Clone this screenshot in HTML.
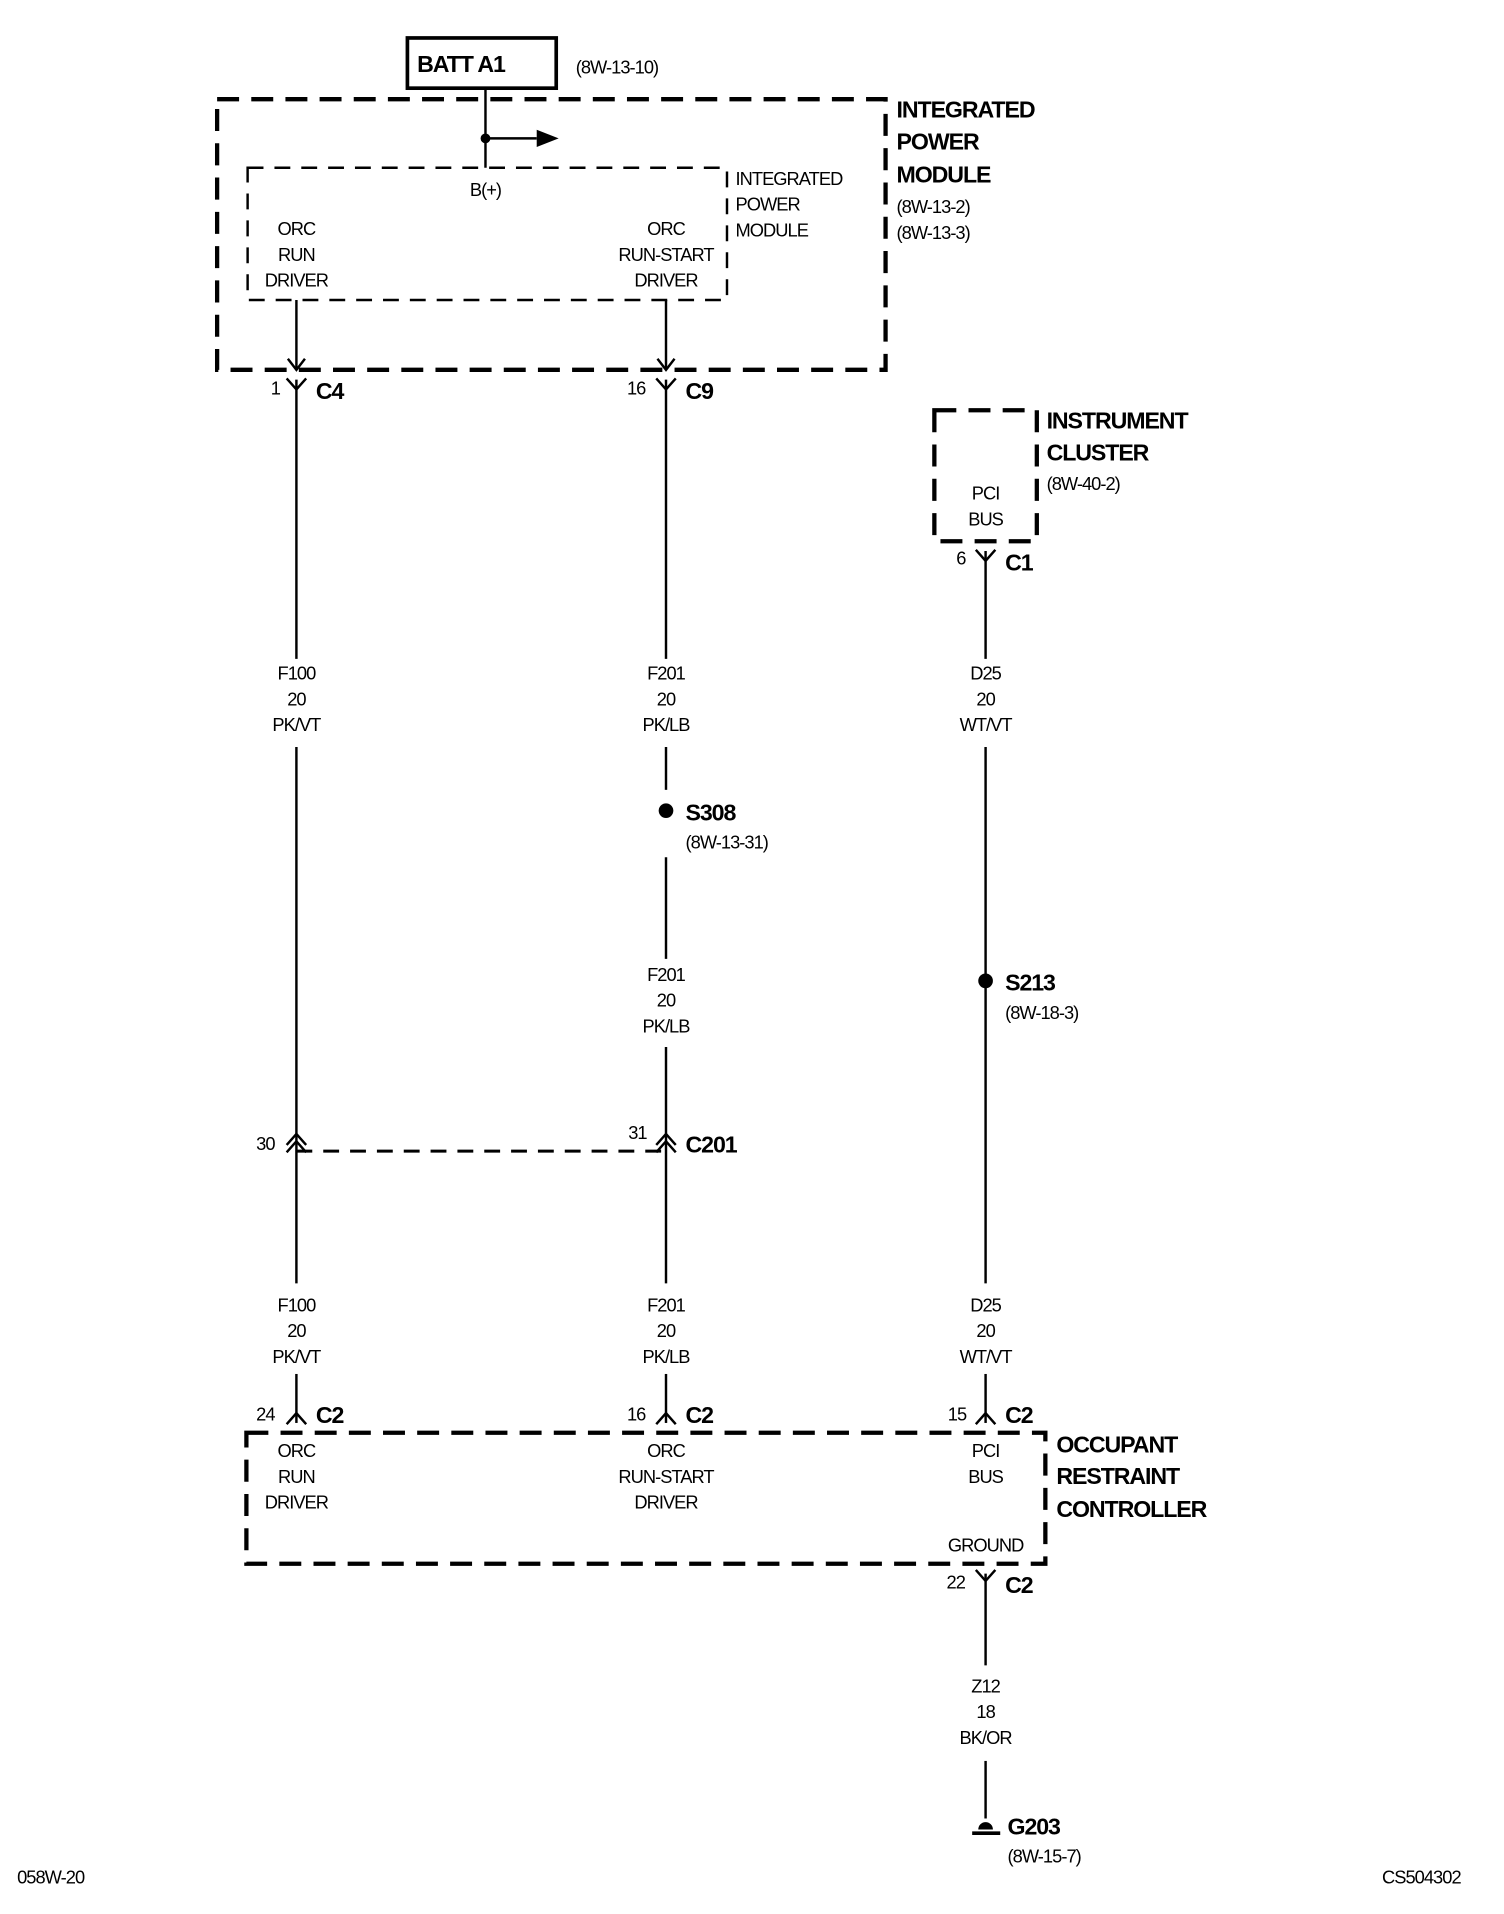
<!DOCTYPE html>
<html><head><meta charset="utf-8"><style>
html,body{margin:0;padding:0;background:#fff}
svg{display:block}
text{font-family:"Liberation Sans",sans-serif;fill:#000}
.n{font-size:15px;letter-spacing:-0.8px}
.b{font-size:19px;font-weight:bold;letter-spacing:-0.9px}
.c{text-anchor:middle}
</style></head><body>
<svg width="1504" height="1914" viewBox="0 0 1233 1563" preserveAspectRatio="none" xmlns="http://www.w3.org/2000/svg">
<g stroke="#000" fill="none">
<rect x="334" y="31" width="122" height="41" stroke-width="3"/>
<rect x="178" y="81" width="548" height="221" stroke-width="3.5" stroke-dasharray="18,10"/>
<rect x="203" y="137" width="393" height="108" stroke-width="2" stroke-dasharray="13,9"/>
<rect x="766" y="335" width="84" height="107" stroke-width="3.5" stroke-dasharray="18,10"/>
<rect x="202" y="1170" width="655" height="107" stroke-width="3.5" stroke-dasharray="18,10"/>
<line x1="243" y1="940" x2="546" y2="940" stroke-width="2.5" stroke-dasharray="13,9"/>
<g stroke-width="2">
<line x1="398" y1="72" x2="398" y2="137"/>
<line x1="398" y1="113" x2="440" y2="113"/>
<line x1="243" y1="245" x2="243" y2="302"/>
<line x1="243" y1="310" x2="243" y2="538"/>
<line x1="243" y1="610" x2="243" y2="1048"/>
<line x1="243" y1="1122" x2="243" y2="1162"/>
<line x1="546" y1="245" x2="546" y2="302"/>
<line x1="546" y1="310" x2="546" y2="538"/>
<line x1="546" y1="610" x2="546" y2="645"/>
<line x1="546" y1="700" x2="546" y2="783"/>
<line x1="546" y1="855" x2="546" y2="1048"/>
<line x1="546" y1="1122" x2="546" y2="1162"/>
<line x1="808" y1="450" x2="808" y2="538"/>
<line x1="808" y1="610" x2="808" y2="1048"/>
<line x1="808" y1="1122" x2="808" y2="1162"/>
<line x1="808" y1="1285" x2="808" y2="1360"/>
<line x1="808" y1="1438" x2="808" y2="1485"/>
<polyline points="236,293 243,302 250,293"/>
<polyline points="235,309 243,318 251,309"/>
<polyline points="539,293 546,302 553,293"/>
<polyline points="538,309 546,318 554,309"/>
<polyline points="800,449 808,458 816,449"/>
<polyline points="800,1282 808,1291 816,1282"/>
<polyline points="235,1163 243,1154 251,1163"/>
<polyline points="538,1163 546,1154 554,1163"/>
<polyline points="800,1163 808,1154 816,1163"/>
<polyline points="235,935 243,926 251,935"/>
<polyline points="235,941 243,932 251,941"/>
<polyline points="538,935 546,926 554,935"/>
<polyline points="538,941 546,932 554,941"/>
<line x1="797" y1="1497" x2="820" y2="1497" stroke-width="3"/>
</g>
</g>
<polygon points="440,106 458,113 440,120" fill="#000"/>
<circle cx="398" cy="113" r="4" fill="#000"/>
<circle cx="546" cy="662" r="6" fill="#000"/>
<circle cx="808" cy="801" r="6" fill="#000"/>
<path d="M802,1494 a6,6 0 1 1 12,0 z" fill="#000"/>

<text x="342" y="59" class="b">BATT A1</text>
<text x="472" y="60" class="n">(8W-13-10)</text>
<text x="735" y="96" class="b">INTEGRATED</text>
<text x="735" y="122" class="b">POWER</text>
<text x="735" y="149" class="b">MODULE</text>
<text x="735" y="174" class="n">(8W-13-2)</text>
<text x="735" y="195" class="n">(8W-13-3)</text>
<text x="603" y="151" class="n">INTEGRATED</text>
<text x="603" y="172" class="n">POWER</text>
<text x="603" y="193" class="n">MODULE</text>
<text x="398" y="160" class="n c">B(+)</text>
<text x="243" y="192" class="n c">ORC</text><text x="243" y="213" class="n c">RUN</text><text x="243" y="234" class="n c">DRIVER</text>
<text x="546" y="192" class="n c">ORC</text><text x="546" y="213" class="n c">RUN-START</text><text x="546" y="234" class="n c">DRIVER</text>
<text x="243" y="555" class="n c">F100</text><text x="243" y="576" class="n c">20</text><text x="243" y="597" class="n c">PK/VT</text>
<text x="546" y="555" class="n c">F201</text><text x="546" y="576" class="n c">20</text><text x="546" y="597" class="n c">PK/LB</text>
<text x="808" y="555" class="n c">D25</text><text x="808" y="576" class="n c">20</text><text x="808" y="597" class="n c">WT/VT</text>
<text x="546" y="801" class="n c">F201</text><text x="546" y="822" class="n c">20</text><text x="546" y="843" class="n c">PK/LB</text>
<text x="243" y="1071" class="n c">F100</text><text x="243" y="1092" class="n c">20</text><text x="243" y="1113" class="n c">PK/VT</text>
<text x="546" y="1071" class="n c">F201</text><text x="546" y="1092" class="n c">20</text><text x="546" y="1113" class="n c">PK/LB</text>
<text x="808" y="1071" class="n c">D25</text><text x="808" y="1092" class="n c">20</text><text x="808" y="1113" class="n c">WT/VT</text>
<text x="243" y="1190" class="n c">ORC</text><text x="243" y="1211" class="n c">RUN</text><text x="243" y="1232" class="n c">DRIVER</text>
<text x="546" y="1190" class="n c">ORC</text><text x="546" y="1211" class="n c">RUN-START</text><text x="546" y="1232" class="n c">DRIVER</text>
<text x="808" y="1190" class="n c">PCI</text><text x="808" y="1211" class="n c">BUS</text>
<text x="808" y="1267" class="n c">GROUND</text>
<text x="808" y="408" class="n c">PCI</text><text x="808" y="429" class="n c">BUS</text>
<text x="808" y="1382" class="n c">Z12</text><text x="808" y="1403" class="n c">18</text><text x="808" y="1424" class="n c">BK/OR</text>
<text x="222" y="322" class="n">1</text><text x="259" y="326" class="b">C4</text>
<text x="514" y="322" class="n">16</text><text x="562" y="326" class="b">C9</text>
<text x="858" y="350" class="b">INSTRUMENT</text>
<text x="858" y="376" class="b">CLUSTER</text>
<text x="858" y="400" class="n">(8W-40-2)</text>
<text x="784" y="461" class="n">6</text><text x="824" y="466" class="b">C1</text>
<text x="562" y="670" class="b">S308</text><text x="562" y="693" class="n">(8W-13-31)</text>
<text x="824" y="809" class="b">S213</text><text x="824" y="832" class="n">(8W-18-3)</text>
<text x="210" y="939" class="n">30</text>
<text x="515" y="930" class="n">31</text><text x="562" y="941" class="b">C201</text>
<text x="210" y="1160" class="n">24</text><text x="259" y="1162" class="b">C2</text>
<text x="514" y="1160" class="n">16</text><text x="562" y="1162" class="b">C2</text>
<text x="777" y="1160" class="n">15</text><text x="824" y="1162" class="b">C2</text>
<text x="866" y="1186" class="b">OCCUPANT</text>
<text x="866" y="1212" class="b">RESTRAINT</text>
<text x="866" y="1239" class="b">CONTROLLER</text>
<text x="776" y="1297" class="n">22</text><text x="824" y="1301" class="b">C2</text>
<text x="826" y="1498" class="b">G203</text>
<text x="826" y="1521" class="n">(8W-15-7)</text>
<text x="14" y="1538" class="n">058W-20</text>
<text x="1133" y="1538" class="n">CS504302</text>
</svg>
</body></html>
